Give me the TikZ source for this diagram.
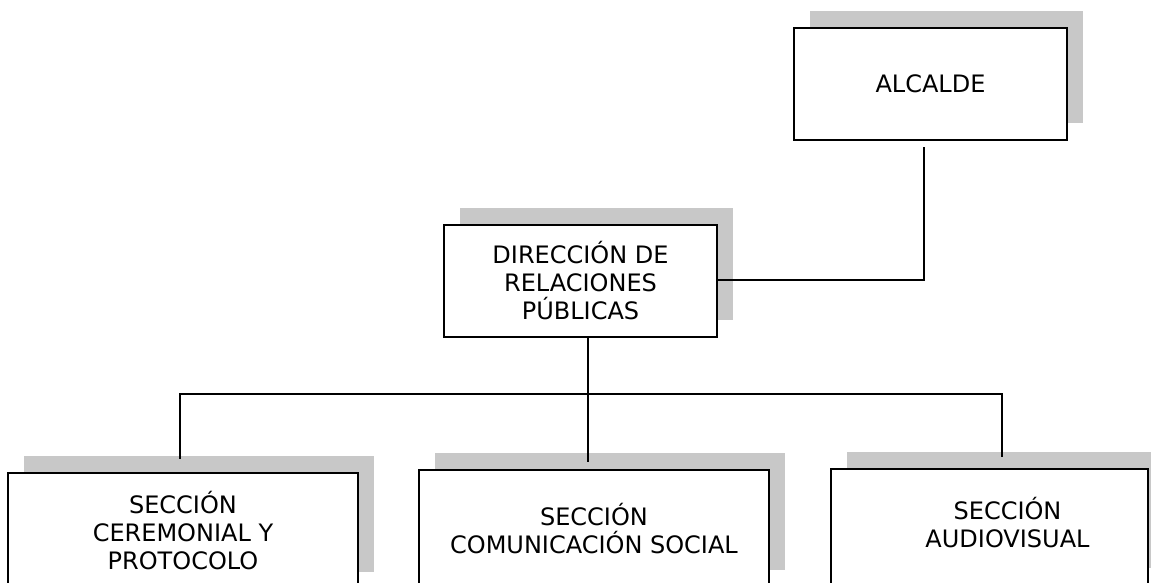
\documentclass[tikz,border=0pt]{standalone}
\usepackage{fontspec}
\setmainfont{DejaVu Sans}
\usetikzlibrary{shadows}
\definecolor{shgray}{RGB}{200,200,200}
\tikzset{
  orgbox/.style={draw=black, line width=2.6pt, fill=white, inner sep=0pt,
    align=center, font=\fontsize{24}{28}\selectfont,
    drop shadow={shadow xshift=16pt, shadow yshift=17pt, fill=shgray, opacity=1}},
  conn/.style={draw=black, line width=2pt}
}
\begin{document}
\begin{tikzpicture}[x=1pt,y=-1pt]
\useasboundingbox (0,0) rectangle (1151,582);
\clip (0,0) rectangle (1151,582);
\fill[white] (0,0) rectangle (1151,582);
\node[orgbox, minimum width=273pt, minimum height=112pt] (alc) at (930.5,84) {ALCALDE};
\node[orgbox, minimum width=273pt, minimum height=112pt] (dir) at (580.5,281) {DIRECCIÓN DE\\RELACIONES\\PÚBLICAS};
\node[orgbox, minimum width=350pt, minimum height=116pt] (cer) at (183,531) {SECCIÓN\\CEREMONIAL Y\\PROTOCOLO};
\node[orgbox, minimum width=350pt, minimum height=117pt] (com) at (594,528.5) {SECCIÓN\\COMUNICACIÓN SOCIAL};
\node[orgbox, minimum width=317pt, minimum height=116pt] (aud) at (989.5,527) {\hspace*{36pt}\begin{tabular}{@{}c@{}}SECCIÓN\\[0pt]AUDIOVISUAL\end{tabular}};
\draw[conn] ([yshift=1pt]dir.east) -| ([xshift=-6.5pt,yshift=-6pt]alc.south);
\draw[conn] ([xshift=7.5pt]dir.south) -- ([xshift=-6pt,yshift=7pt]com.north);
\draw[conn] ([xshift=-3pt,yshift=13pt]cer.north) -- ++(0,-64.5) -| ([xshift=12.5pt,yshift=11pt]aud.north);
\end{tikzpicture}
\end{document}
